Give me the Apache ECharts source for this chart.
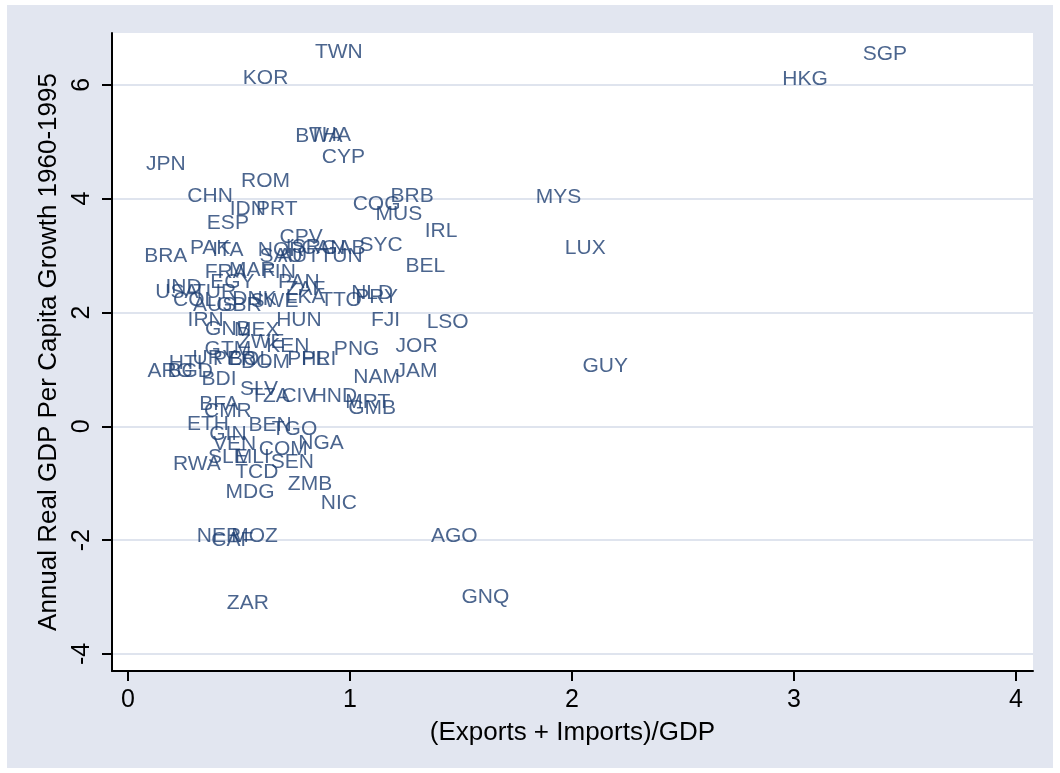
<!DOCTYPE html>
<html>
<head>
<meta charset="utf-8">
<script src="https://cdn.jsdelivr.net/npm/echarts@6/dist/echarts.min.js"></script>
<style>
html,body{margin:0;padding:0;background:#fff;}
#chart{position:absolute;left:7px;top:5px;width:1046px;height:763px;}
</style>
</head>
<body>
<div id="chart"></div>
<script>
// country codes, trade share of GDP, growth 1960-1995
var codes=["TWN","KOR","SGP","HKG","BWA","THA","CYP","JPN","ROM","CHN",
	"IDN","PRT","ESP","COG","BRB","MUS","IRL","SYC","BEL","MYS",
	"LUX","GUY","CPV","ISR","CAN","GAB","TUN","BRA","PAK","ITA",
	"NOR","SAU","AUT","FRA","MAR","FIN","EGY","PAN","IND","USA",
	"TUR","COL","AUS","IRN","GNB","MEX","HUN","NLD","PRY","TTO",
	"FJI","LSO","KEN","GTM","PNG","JOR","JAM","NAM","PHL","PRI",
	"ARG","BGD","BDI","SLV","TZA","CIV","HND","MRT","GMB","BFA",
	"CMR","ETH","BEN","TGO","GIN","VEN","NGA","COM","SLE","MLI",
	"SEN","RWA","TCD","ZMB","MDG","NIC","NER","CAF","MOZ","ZAR",
	"AGO","GNQ","ZWE","URY","PER","BOL","DNK","LKA","ZAF","GBR",
	"SWE","HTI","DOM"];
var openness=[0.95,0.62,3.41,3.05,0.86,0.91,0.97,0.17,0.62,0.37,
	0.54,0.67,0.45,1.12,1.28,1.22,1.41,1.14,1.34,1.94,
	2.06,2.15,0.78,0.79,0.88,0.97,0.96,0.17,0.37,0.45,
	0.69,0.69,0.77,0.44,0.56,0.68,0.47,0.77,0.25,0.22,
	0.39,0.30,0.39,0.35,0.45,0.58,0.77,1.10,1.12,0.96,
	1.16,1.44,0.72,0.45,1.03,1.30,1.30,1.12,0.81,0.86,
	0.19,0.28,0.41,0.59,0.64,0.77,0.93,1.08,1.10,0.41,
	0.45,0.36,0.64,0.75,0.45,0.48,0.87,0.70,0.45,0.56,
	0.74,0.31,0.58,0.82,0.55,0.95,0.41,0.47,0.57,0.54,
	1.47,1.61,0.60,0.39,0.48,0.55,0.57,0.80,0.80,0.50,
	0.66,0.26,0.62];
var growth=[6.58,6.12,6.54,6.09,5.09,5.12,4.73,4.61,4.30,4.05,
	3.82,3.82,3.57,3.91,4.05,3.72,3.43,3.19,2.82,4.03,
	3.12,1.06,3.33,3.15,3.12,3.12,2.98,2.98,3.12,3.10,
	3.10,2.98,2.98,2.71,2.75,2.71,2.54,2.54,2.45,2.36,
	2.36,2.22,2.12,1.87,1.71,1.69,1.87,2.34,2.26,2.22,
	1.87,1.82,1.40,1.36,1.36,1.40,0.97,0.87,1.17,1.17,
	0.96,0.96,0.82,0.66,0.53,0.52,0.52,0.43,0.32,0.38,
	0.27,0.04,0.01,-0.05,-0.14,-0.31,-0.29,-0.41,-0.54,-0.54,
	-0.64,-0.66,-0.80,-1.01,-1.15,-1.36,-1.93,-2.00,-1.93,-3.10,
	-1.93,-3.00,1.48,1.20,1.17,1.17,2.24,2.27,2.40,2.13,
	2.19,1.11,1.13];
var xTicks=[0,1,2,3,4];
var yTicks=[-4,-2,0,2,4,6];

var points=[];
for(var i=0;i<codes.length;i++){
	points.push([openness[i],growth[i],codes[i]]);
}

var font='Liberation Sans, Arial';
var chart=echarts.init(document.getElementById('chart'));
var option={
	backgroundColor:'#e2e6f0',
	animation:false,
	grid:{
		left:105,
		top:28,
		right:20,
		bottom:97,
		show:true,
		backgroundColor:'#ffffff',
		borderWidth:0
	},
	xAxis:{
		type:'value',
		min:-0.072,
		max:4.077,
		name:'(Exports + Imports)/GDP',
		nameLocation:'middle',
		nameGap:49,
		nameTextStyle:{color:'#000',fontSize:26,fontFamily:font},
		axisLine:{onZero:false,lineStyle:{color:'#000',width:2}},
		axisTick:{customValues:xTicks,length:10,lineStyle:{color:'#000',width:2}},
		axisLabel:{customValues:xTicks,margin:17,color:'#000',fontSize:25,fontFamily:font},
		splitLine:{show:false}
	},
	yAxis:{
		type:'value',
		min:-4.30,
		max:6.91,
		name:'Annual Real GDP Per Capita Growth 1960-1995',
		nameLocation:'middle',
		nameGap:50,
		nameTextStyle:{color:'#000',fontSize:26,fontFamily:font},
		axisLine:{show:true,onZero:false,lineStyle:{color:'#000',width:2}},
		axisTick:{show:true,customValues:yTicks,length:10,lineStyle:{color:'#000',width:2}},
		axisLabel:{customValues:yTicks,rotate:90,margin:17,color:'#000',fontSize:25,fontFamily:font},
		splitLine:{show:true,lineStyle:{color:'#dfe4ee',width:2}}
	},
	series:[{
		type:'scatter',
		data:points,
		symbolSize:1,
		itemStyle:{color:'rgba(0,0,0,0)'},
		label:{
			show:true,
			position:'inside',
			color:'#1e3f72',
			fontSize:21,
			fontFamily:font,
			formatter:function(p){return p.value[2];}
		}
	}]
};
chart.setOption(option);
</script>
</body>
</html>
